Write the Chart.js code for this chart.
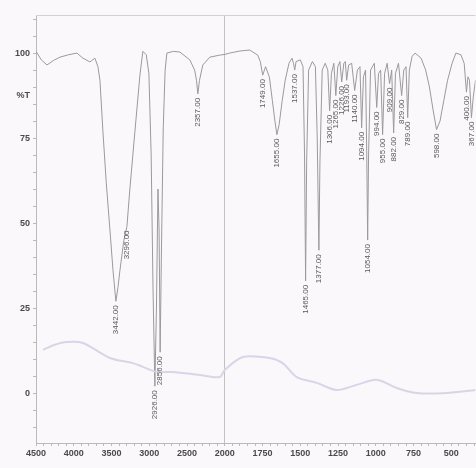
<!DOCTYPE html>
<html>
<head>
<meta charset="utf-8">
<script src="https://cdn.jsdelivr.net/npm/chart.js@4.4.1/dist/chart.umd.min.js"></script>
<style>
    html, body { margin: 0; padding: 0; background: #fbf8fb; }
    #wrap { width: 476px; height: 468px; }
</style>
</head>
<body>
<div id="wrap"><canvas id="spectrum"></canvas></div>
<script>
// sample spectrum: wavenumber (cm-1) and %T
const sampleWn = [4500, 4430, 4354, 4270, 4183, 4070, 3958, 3878, 3786, 3720, 3680, 3653, 3614, 3570, 3521, 3480, 3442, 3415, 3389, 3336, 3296, 3257, 3190, 3124, 3085, 3040, 3005, 2975, 2950, 2926, 2905, 2885, 2870, 2856, 2840, 2815, 2790, 2767, 2680, 2595, 2463, 2399, 2375, 2357, 2335, 2291, 2198, 2066, 2000, 1967, 1901, 1835, 1782, 1765, 1749, 1730, 1705, 1685, 1668, 1655, 1640, 1620, 1600, 1575, 1555, 1545, 1537, 1528, 1500, 1482, 1472, 1465, 1458, 1445, 1420, 1400, 1388, 1377, 1370, 1355, 1335, 1318, 1306, 1294, 1278, 1265, 1252, 1238, 1226, 1212, 1202, 1193, 1180, 1160, 1140, 1122, 1105, 1094, 1082, 1068, 1060, 1054, 1048, 1035, 1010, 994, 982, 968, 955, 942, 925, 909, 895, 882, 870, 850, 829, 815, 800, 789, 778, 760, 740, 700, 670, 645, 620, 598, 575, 550, 525, 495, 470, 437, 415, 400, 390, 380, 367, 355, 340];
const sampleT = [100.5, 98, 96.5, 97.8, 98.8, 99.5, 100, 98.5, 97.4, 98.5, 96, 92, 77, 62, 48, 36, 27, 31, 36, 45, 49, 60, 77, 93.5, 100.5, 99.5, 94, 70, 30, 2, 25, 60, 48, 12, 40, 78, 95, 100, 100.5, 100.3, 98, 95, 92, 88, 92, 96.5, 98.8, 99.4, 99.6, 100, 100.6, 100.9, 99.4, 97.5, 93.5, 96, 93, 86, 80, 76, 79, 86, 92, 97, 98.5, 97, 95, 97.5, 98, 96, 70, 33, 68, 95, 97.5, 96, 75, 42, 68, 95, 97, 95, 83, 94, 97, 87.5, 96, 97.5, 91.5, 97, 97.5, 92, 96.5, 97, 89, 95, 96, 78, 93, 95, 70, 45, 70, 95, 97, 84, 94, 95, 76, 94, 97, 91, 95, 76.5, 94, 97, 87.5, 95, 96, 81, 95, 99, 100, 98.5, 95, 90, 83, 77.5, 80, 86, 92, 97, 100, 99.5, 97, 88.5, 93, 92, 81, 87, 92];

// faint background trace
const blankWn = [4407, 4250, 4090, 3878, 3521, 3217, 3085, 2900, 2688, 2331, 2066, 2000, 1881, 1702, 1617, 1524, 1391, 1260, 1127, 994, 862, 730, 532, 340];
const blankT = [12.7, 14.2, 15, 14.7, 10.3, 8.8, 7.7, 6.2, 6.2, 5.3, 4.7, 6.8, 10.6, 10.3, 8.8, 4.7, 3, 0.9, 2.4, 3.9, 1.5, 0, 0, 0.9];

// picked peaks
const peakWn = [3442, 3296, 2926, 2856, 2357, 1749, 1655, 1537, 1465, 1377, 1306, 1265, 1226, 1193, 1140, 1094, 1054, 994, 955, 909, 882, 829, 789, 598, 400, 367];
const peakT = [27, 49, 2, 12, 88, 93.5, 76, 95, 33, 42, 83, 87.5, 91.5, 92, 89, 78, 45, 84, 76, 91, 76.5, 87.5, 81, 77.5, 88.5, 81];

const xTickWn = [4500, 4000, 3500, 3000, 2500, 2000, 1750, 1500, 1250, 1000, 750, 500];
const yTickVals = [100, 75, 50, 25, 0];

// the instrument prints 500 cm-1 per division above 2000 and 250 below
function axisPos(wn) {
    return wn >= 2000 ? (4500 - wn) / 500 : 5 + (2000 - wn) / 250;
}
function axisWn(p) {
    return p <= 5 ? 4500 - p * 500 : 2000 - (p - 5) * 250;
}

const toPoints = (wn, t) => wn.map((w, i) => ({ x: axisPos(w), y: t[i] }));

const AXIS_COLOR = '#bdb8bd';
const LABEL_COLOR = '#4a4a4a';

const framePlugin = {
    id: 'frame',
    beforeDraw(chart) {
        const { ctx, width, height } = chart;
        ctx.save();
        ctx.fillStyle = '#fbf8fb';
        ctx.fillRect(0, 0, width, height);
        ctx.restore();
    },
    afterDraw(chart) {
        const { ctx, chartArea, scales } = chart;
        ctx.save();
        ctx.strokeStyle = '#d6d0d6';
        ctx.lineWidth = 1;
        ctx.beginPath();
        ctx.moveTo(chartArea.left, chartArea.top + 0.5);
        ctx.lineTo(chartArea.right, chartArea.top + 0.5);
        ctx.stroke();

        // unit mark between the 100 and 75 ticks
        ctx.fillStyle = LABEL_COLOR;
        ctx.font = 'bold 9px "Liberation Sans Narrow", "Liberation Sans", sans-serif';
        ctx.textAlign = 'right';
        ctx.textBaseline = 'middle';
        ctx.fillText('%T', chartArea.left - 6, scales.y.getPixelForValue(87.5));
        ctx.restore();
    }
};

const peakLabelPlugin = {
    id: 'peakLabels',
    afterDatasetsDraw(chart) {
        const { ctx, scales } = chart;
        ctx.save();
        ctx.fillStyle = '#5a5a5a';
        ctx.font = '8px "Liberation Sans", sans-serif';
        ctx.textAlign = 'right';
        ctx.textBaseline = 'middle';
        peakWn.forEach((wn, i) => {
            const x = scales.x.getPixelForValue(axisPos(wn));
            const y = scales.y.getPixelForValue(peakT[i]) + 4;
            ctx.save();
            ctx.translate(x, y);
            ctx.rotate(-Math.PI / 2);
            ctx.fillText(wn.toFixed(2), 0, 0);
            ctx.restore();
        });
        ctx.restore();
    }
};

new Chart(document.getElementById('spectrum'), {
    type: 'line',
    data: {
        datasets: [{
            label: 'blank',
            data: toPoints(blankWn, blankT),
            borderColor: '#dcd3e8',
            borderWidth: 2,
            pointRadius: 0,
            tension: 0.3
        }, {
            label: 'sample',
            data: toPoints(sampleWn, sampleT),
            borderColor: '#9a9a9a',
            borderWidth: 1,
            pointRadius: 0,
            tension: 0
        }]
    },
    options: {
        responsive: true,
        maintainAspectRatio: false,
        animation: false,
        layout: { padding: { top: 15, left: 0, right: 0, bottom: 0 } },
        plugins: { legend: { display: false }, tooltip: { enabled: false } },
        scales: {
            x: {
                type: 'linear',
                min: 0,
                max: 11.64,
                afterBuildTicks(scale) {
                    const ticks = [];
                    for (let i = 0; i <= 58; i++) ticks.push({ value: i * 0.2 });
                    scale.ticks = ticks;
                },
                afterFit(scale) { scale.height = 25; },
                border: { display: true, color: AXIS_COLOR },
                grid: {
                    drawOnChartArea: true,
                    color: c => (c.tick && Math.abs(c.tick.value - 5) < 1e-6) ? '#c4bfc4' : 'rgba(0,0,0,0)',
                    tickColor: AXIS_COLOR,
                    tickLength: 3
                },
                ticks: {
                    autoSkip: false,
                    maxRotation: 0,
                    padding: 2,
                    color: LABEL_COLOR,
                    font: { size: 9, weight: 'bold', family: '"Liberation Sans Narrow", "Liberation Sans", sans-serif' },
                    callback(value) {
                        const p = Math.round(value);
                        if (Math.abs(value - p) > 1e-6) return '';
                        const wn = axisWn(p);
                        return xTickWn.includes(wn) ? String(wn) : '';
                    }
                }
            },
            y: {
                min: -14.7,
                max: 111.2,
                afterBuildTicks(scale) {
                    const ticks = [];
                    for (let v = -10; v <= 110; v += 5) ticks.push({ value: v });
                    scale.ticks = ticks;
                },
                afterFit(scale) { scale.width = 36; },
                border: { display: true, color: AXIS_COLOR },
                grid: { drawOnChartArea: false, tickColor: AXIS_COLOR, tickLength: 3 },
                ticks: {
                    autoSkip: false,
                    padding: 3,
                    color: LABEL_COLOR,
                    font: { size: 9, weight: 'bold', family: '"Liberation Sans Narrow", "Liberation Sans", sans-serif' },
                    callback: value => yTickVals.includes(value) ? String(value) : ''
                }
            }
        }
    },
    plugins: [framePlugin, peakLabelPlugin]
});
</script>
</body>
</html>
